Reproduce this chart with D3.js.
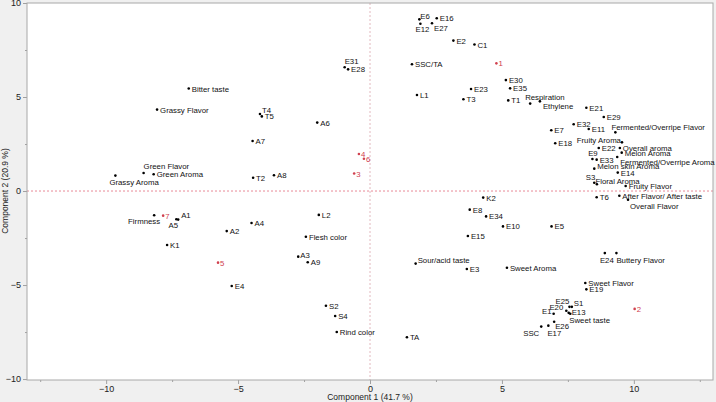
<!DOCTYPE html>
<html lang="en">

<head>
  <meta charset="UTF-8">
  <title>PCA Biplot</title>
  <script src="https://cdnjs.cloudflare.com/ajax/libs/d3/7.8.5/d3.min.js"></script>
  <style>
    body { margin: 0; background: #f0f0f0; }
    text { font-family: "Liberation Sans", Arial, sans-serif; }
  </style>
</head>

<body>
  <div id="biplot"></div>
  <script>
// variable loadings (black points)
var varNames = ["Bitter taste", "Grassy Flavor", "Green Flavor", "Green Aroma", "Grassy Aroma",
  "Firmness", "A1", "A5", "K1", "A2", "E4", "T4", "T5", "A6", "A7", "T2", "A8", "E31", "E28",
  "L2", "A4", "Flesh color", "A3", "A9", "S2", "S4", "Rind color", "TA", "Sour/acid taste",
  "E3", "E8", "E15", "E34", "E10", "E5", "K2", "Sweet Aroma", "E24", "Buttery Flavor",
  "Sweet Flavor", "E19", "E25", "S1", "E20", "E13", "Sweet taste", "E1", "E26", "SSC", "E17",
  "E6", "E16", "E12", "E27", "E2", "C1", "SSC/TA", "L1", "E23", "T3", "E30", "E35", "T1",
  "Respiration", "Ethylene", "E21", "E29", "E32", "E11", "Fermented/Overripe Flavor", "E7",
  "E18", "Fruity Aroma", "E22", "Overall aroma", "Melon Aroma", "E9", "E33",
  "Fermented/Overripe Aroma", "Melon skin Aroma", "E14", "S3", "Floral Aroma", "Fruity Flavor",
  "T6", "After Flavor/ After taste", "Overall Flavor"];

var varPC1 = [-6.87, -8.07, -8.58, -8.2, -9.65,
  -8.18, -7.27, -7.34, -7.69, -5.43, -5.24, -4.17, -4.1, -2.0, -4.45, -4.43, -3.64, -0.96, -0.83,
  -1.94, -4.49, -2.43, -2.72, -2.36, -1.67, -1.32, -1.26, 1.4, 1.73,
  3.67, 3.78, 3.71, 4.4, 5.04, 6.88, 4.29, 5.19, 8.9, 9.34,
  8.16, 8.2, 7.56, 7.65, 7.44, 7.53, 7.59, 6.96, 6.98, 6.49, 6.76,
  1.87, 2.53, 1.91, 2.35, 3.16, 3.96, 1.59, 1.78, 3.83, 3.54, 5.15, 5.31, 5.24,
  6.07, 6.44, 8.2, 8.86, 7.72, 8.29, 9.3, 6.87,
  7.02, 9.55, 8.67, 9.47, 9.54, 8.43, 8.59,
  9.37, 8.5, 9.39, 8.5, 8.6, 9.69,
  8.59, 9.45, 9.78];

var varPC2 = [5.45, 4.33, 0.96, 0.89, 0.82,
  -1.29, -1.52, -1.5, -2.87, -2.13, -5.05, 4.1, 3.97, 3.64, 2.66, 0.71, 0.84, 6.58, 6.47,
  -1.27, -1.7, -2.43, -3.49, -3.79, -6.1, -6.65, -7.5, -7.78, -3.86,
  -4.15, -0.99, -2.39, -1.35, -1.88, -1.88, -0.35, -4.08, -3.3, -3.3,
  -4.89, -5.23, -6.16, -6.16, -6.37, -6.48, -6.53, -6.53, -6.95, -7.21, -7.16,
  9.13, 9.19, 8.9, 8.92, 8.0, 7.79, 6.74, 5.11, 5.43, 4.88, 5.9, 5.46, 4.82,
  4.65, 4.77, 4.43, 3.94, 3.55, 3.3, 3.12, 3.23,
  2.54, 2.59, 2.29, 2.29, 2.04, 1.7, 1.67,
  1.81, 1.19, 0.98, 0.44, 0.36, 0.27,
  -0.33, -0.25, -0.46];

// observation scores (red points)
var obsNames = ["1", "2", "3", "4", "5", "6", "7"];
var obsPC1 = [4.79, 10.03, -0.6, -0.42, -5.76, -0.23, -7.84];
var obsPC2 = [6.79, -6.27, 0.93, 1.97, -3.81, 1.72, -1.31];

var xTicks = [-10, -5, 0, 5, 10];
var yTicks = [-10, -5, 0, 5, 10];

// label placement around a point: [dx, dy, anchor]; anything not listed sits to the right
var labelPlace = {
  "Green Flavor": [0, -4, "start"],
  "Grassy Aroma": [-6, 9, "start"],
  "Firmness": [6, 9, "end"],
  "A1": [3, -1.5, "start"],
  "A5": [-3, 9, "middle"],
  "T4": [2, -1, "start"],
  "E31": [0, -3.5, "start"],
  "A3": [2, 1, "start"],
  "Sour/acid taste": [2, -1, "start"],
  "E24": [2, 9.6, "middle"],
  "Buttery Flavor": [0, 9.6, "start"],
  "E25": [-7, -3, "middle"],
  "S1": [2, -0.5, "start"],
  "E20": [-3, -0.5, "end"],
  "E13": [3, 2.5, "start"],
  "Sweet taste": [-1, 9, "start"],
  "E1": [-2, 0, "end"],
  "E26": [1, 7, "start"],
  "SSC": [-2, 9.5, "end"],
  "E17": [6, 10.5, "middle"],
  "E6": [1, 0, "start"],
  "E12": [2, 8.7, "middle"],
  "E27": [2, 7.3, "start"],
  "Respiration": [-5, -3.3, "start"],
  "Ethylene": [3, 8, "start"],
  "Fermented/Overripe Flavor": [-4, -2.3, "start"],
  "Fruity Aroma": [-1, 1, "end"],
  "E9": [0.5, -3.4, "middle"],
  "Fermented/Overripe Aroma": [3, 7.6, "start"],
  "Melon skin Aroma": [3, 0.5, "start"],
  "E14": [3, 3.5, "start"],
  "S3": [1, -2.8, "end"],
  "Floral Aroma": [-1.5, -0.7, "start"],
  "Overall Flavor": [2, 9, "start"]
};

var svgWidth = 716;
var svgHeight = 402;

var margin = {
  top: 3,
  right: 3,
  bottom: 22,
  left: 27
};

var width = svgWidth - margin.left - margin.right;
var height = svgHeight - margin.top - margin.bottom;

var svg = d3.select("#biplot")
  .append("svg")
  .attr("width", svgWidth)
  .attr("height", svgHeight);

var chartGroup = svg.append("g")
  .attr("transform", `translate(${margin.left}, ${margin.top})`);

// scales
var xScale = d3.scaleLinear()
  .domain([-13, 13])
  .range([0, width]);

var yScale = d3.scaleLinear()
  .domain([-10.05, 10.0])
  .range([height, 0]);

// plot background
chartGroup.append("rect")
  .attr("width", width)
  .attr("height", height)
  .attr("fill", "#ffffff");

// zero reference lines
chartGroup.append("line")
  .attr("x1", xScale(0))
  .attr("x2", xScale(0))
  .attr("y1", 0)
  .attr("y2", height)
  .attr("stroke", "#e2b8be")
  .attr("stroke-width", 1)
  .attr("stroke-dasharray", "2,2");

chartGroup.append("line")
  .attr("x1", 0)
  .attr("x2", width)
  .attr("y1", yScale(0))
  .attr("y2", yScale(0))
  .attr("stroke", "#e88a98")
  .attr("stroke-width", 1)
  .attr("stroke-dasharray", "2,2");

// axes
var bottomAxis = d3.axisBottom(xScale)
  .tickValues(xTicks)
  .tickSize(4)
  .tickPadding(2);

var leftAxis = d3.axisLeft(yScale)
  .tickValues(yTicks)
  .tickSize(4)
  .tickPadding(2);

chartGroup.append("g")
  .attr("transform", `translate(0, ${height})`)
  .call(bottomAxis);

chartGroup.append("g")
  .call(leftAxis);

// minor ticks
var xMinor = d3.axisBottom(xScale)
  .tickValues([-12.5, -7.5, -2.5, 2.5, 7.5, 12.5])
  .tickSize(2)
  .tickFormat("");

var yMinor = d3.axisLeft(yScale)
  .tickValues([-7.5, -2.5, 2.5, 7.5])
  .tickSize(2)
  .tickFormat("");

chartGroup.append("g")
  .attr("transform", `translate(0, ${height})`)
  .call(xMinor);

chartGroup.append("g")
  .call(yMinor);

chartGroup.selectAll(".domain").remove();
chartGroup.selectAll(".tick line").attr("stroke", "#a0a0a0");
chartGroup.selectAll(".tick text")
  .attr("fill", "#222")
  .style("font-size", "9px")
  .style("font-family", "'Liberation Sans', Arial, sans-serif");

// frame
chartGroup.append("rect")
  .attr("width", width)
  .attr("height", height)
  .attr("fill", "none")
  .attr("stroke", "#a8a8a8")
  .attr("stroke-width", 1);

// axis titles
svg.append("text")
  .attr("x", margin.left + xScale(0))
  .attr("y", 400)
  .attr("text-anchor", "middle")
  .style("font-size", "8.5px")
  .attr("fill", "#222")
  .text("Component 1  (41.7 %)");

svg.append("text")
  .attr("transform", `translate(8, ${margin.top + yScale(0)}) rotate(-90)`)
  .attr("text-anchor", "middle")
  .style("font-size", "8.5px")
  .attr("fill", "#222")
  .text("Component 2  (20.9 %)");

// build point tables
var varData = varNames.map((name, i) => ({ name: name, x: varPC1[i], y: varPC2[i] }));
var obsData = obsNames.map((name, i) => ({ name: name, x: obsPC1[i], y: obsPC2[i] }));

function place(d) {
  return labelPlace[d.name] || [3, 3, "start"];
}

// variable points
chartGroup.selectAll(".varDot")
  .data(varData)
  .enter()
  .append("circle")
  .attr("class", "varDot")
  .attr("cx", d => xScale(d.x))
  .attr("cy", d => yScale(d.y))
  .attr("r", 1.3)
  .attr("fill", "#000");

chartGroup.selectAll(".varText")
  .data(varData)
  .enter()
  .append("text")
  .attr("class", "varText")
  .attr("x", d => xScale(d.x) + place(d)[0])
  .attr("y", d => yScale(d.y) + place(d)[1])
  .attr("text-anchor", d => place(d)[2])
  .style("font-size", "7.8px")
  .attr("fill", "#111")
  .text(d => d.name);

// observation points
chartGroup.selectAll(".obsDot")
  .data(obsData)
  .enter()
  .append("circle")
  .attr("class", "obsDot")
  .attr("cx", d => xScale(d.x))
  .attr("cy", d => yScale(d.y))
  .attr("r", 1.3)
  .attr("fill", "#d0404f");

chartGroup.selectAll(".obsText")
  .data(obsData)
  .enter()
  .append("text")
  .attr("class", "obsText")
  .attr("x", d => xScale(d.x) + 2)
  .attr("y", d => yScale(d.y) + 3)
  .style("font-size", "7.8px")
  .attr("fill", "#d0404f")
  .text(d => d.name);
  </script>
</body>

</html>
